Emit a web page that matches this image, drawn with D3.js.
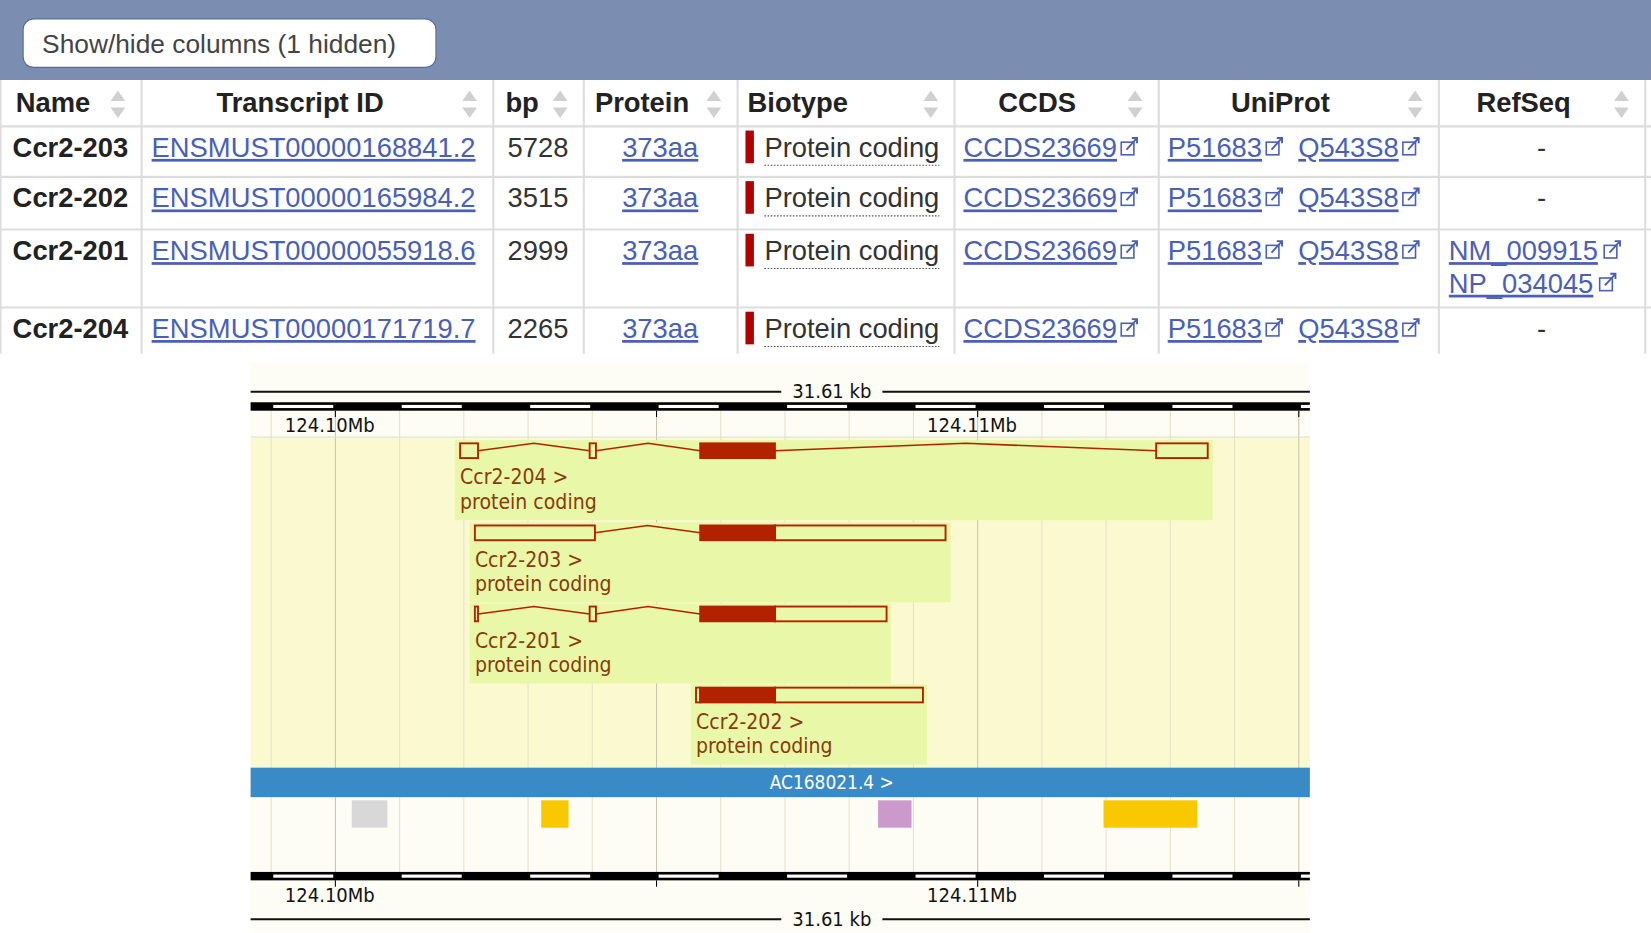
<!DOCTYPE html>
<html><head><meta charset="utf-8">
<script src="https://cdn.jsdelivr.net/npm/d3@7"></script>
<style>body{margin:0;background:#fff}svg{display:block}</style>
</head><body><div id="wrapper"></div>
<script>
// table data
const columns = ["Name", "Transcript ID", "bp", "Protein", "Biotype", "CCDS", "UniProt", "RefSeq"];
const names = ["Ccr2-203", "Ccr2-202", "Ccr2-201", "Ccr2-204"];
const transcriptIds = ["ENSMUST00000168841.2", "ENSMUST00000165984.2", "ENSMUST00000055918.6", "ENSMUST00000171719.7"];
const bps = [5728, 3515, 2999, 2265];
const proteins = ["373aa", "373aa", "373aa", "373aa"];
const biotypes = ["Protein coding", "Protein coding", "Protein coding", "Protein coding"];
const ccds = ["CCDS23669", "CCDS23669", "CCDS23669", "CCDS23669"];
const uniprot = [["P51683", "Q543S8"], ["P51683", "Q543S8"], ["P51683", "Q543S8"], ["P51683", "Q543S8"]];
const refseq = [[], [], ["NM_009915", "NP_034045"], []];

// genome view data
const regionStart = 124098680, regionEnd = 124115172;
const rulerTicks = [124100000, 124110000];
const tracks = ["Ccr2-204", "Ccr2-203", "Ccr2-201", "Ccr2-202"];
// exons: [start, end, coding?]
const exons204 = [[124101942, 124102221, 0], [124103959, 124104057, 0], [124105680, 124106844, 1], [124112779, 124113582, 0]];
const exons203 = [[124102172, 124104041, 0], [124105680, 124106844, 1], [124106844, 124109500, 0]];
const exons201 = [[124102172, 124102221, 0], [124103959, 124104057, 0], [124105680, 124106844, 1], [124106844, 124108582, 0]];
const exons202 = [[124105615, 124105680, 0], [124105680, 124106844, 1], [124106844, 124109148, 0]];
const labelEnds = [124113660, 124109580, 124108650, 124109210];
const regFeatures = [[124100255, 124100810, "#d8d8d8"], [124103205, 124103630, "#f8c800"], [124108450, 124108970, "#cc99cc"], [124111960, 124113420, "#f8c800"]];

const W = 1568, H = 886;
const svg = d3.select("#wrapper").append("svg")
  .attr("width", 1651).attr("height", 933)
  .attr("viewBox", `0 0 ${W} ${H}`).attr("preserveAspectRatio", "none");

const tf = "'Liberation Sans', Arial, sans-serif";
const linkColor = "#4a5fb8";

// header band
svg.append("rect").attr("x", 0).attr("y", 0).attr("width", W).attr("height", 76).attr("fill", "#7b8db0");
svg.append("rect").attr("x", 22).attr("y", 18).attr("width", 392).attr("height", 46).attr("rx", 10)
  .attr("fill", "#fff").attr("stroke", "#5a6a90");
svg.append("text").attr("x", 40).attr("y", 50).attr("font-family", tf).attr("font-size", 25)
  .attr("fill", "#444").text("Show/hide columns (1 hidden)");

const colX = [0, 134, 468, 554, 700, 906, 1100, 1366, 1562];
const rowY = [76, 120, 168, 218, 292, 336];
const table = svg.append("g").attr("font-family", tf);
table.append("rect").attr("x", 0).attr("y", 76).attr("width", W).attr("height", 260).attr("fill", "#fff");
colX.forEach(x => table.append("line").attr("x1", x + 0.5).attr("x2", x + 0.5).attr("y1", 76).attr("y2", 336).attr("stroke", "#ddd").attr("stroke-width", 2));
rowY.slice(1, 5).forEach(y => table.append("line").attr("x1", 0).attr("x2", W).attr("y1", y).attr("y2", y).attr("stroke", "#ddd").attr("stroke-width", 2));

const headAnchor = [[15, "start"], [285, "middle"], [480, "start"], [565, "start"], [710, "start"], [985, "middle"], [1216, "middle"], [1447, "middle"]];
columns.forEach((c, i) => {
  table.append("text").attr("x", headAnchor[i][0]).attr("y", 106).attr("text-anchor", headAnchor[i][1])
    .attr("font-size", 26).attr("font-weight", "bold").attr("fill", "#222").text(c);
  const ax = colX[i + 1] - 22;
  table.append("path").attr("d", `M${ax - 7},${96}L${ax},${86}L${ax + 7},${96}Z M${ax - 7},${102}L${ax},${112}L${ax + 7},${102}Z`).attr("fill", "#d0d0d0");
});

function extIcon(g, x, y) {
  g.append("rect").attr("x", x).attr("y", y - 14).attr("width", 12).attr("height", 12).attr("fill", "none").attr("stroke", linkColor).attr("stroke-width", 1.5);
  g.append("path").attr("d", `M${x + 5},${y - 7}L${x + 15},${y - 18}M${x + 10},${y - 18}H${x + 15}V${y - 13}`).attr("fill", "none").attr("stroke", linkColor).attr("stroke-width", 1.8);
}
function link(g, x, y, t, anchor) {
  const el = g.append("text").attr("x", x).attr("y", y).attr("font-size", 26).attr("fill", linkColor)
    .attr("text-decoration", "underline").attr("text-anchor", anchor || "start").text(t);
  return el.node().getComputedTextLength();
}

names.forEach((n, i) => {
  const y = rowY[i + 1] + 29;
  const g = table.append("g");
  g.append("text").attr("x", 12).attr("y", y).attr("font-size", 26).attr("font-weight", "bold").attr("fill", "#222").text(n);
  link(g, 144, y, transcriptIds[i]);
  g.append("text").attr("x", 482).attr("y", y).attr("font-size", 26).attr("fill", "#333").text(bps[i]);
  link(g, 627, y, proteins[i], "middle");
  g.append("rect").attr("x", 708).attr("y", y - 25).attr("width", 8).attr("height", 31).attr("fill", "#b00000");
  const bt = g.append("text").attr("x", 726).attr("y", y).attr("font-size", 26).attr("fill", "#333").text(biotypes[i]);
  const bw = bt.node().getComputedTextLength();
  g.append("line").attr("x1", 726).attr("x2", 726 + bw).attr("y1", y + 8).attr("y2", y + 8).attr("stroke", "#555").attr("stroke-dasharray", "1.5,1.5");
  let w = link(g, 915, y, ccds[i]);
  extIcon(g, 915 + w + 4, y);
  w = link(g, 1109, y, uniprot[i][0]);
  extIcon(g, 1109 + w + 4, y);
  w = link(g, 1233, y, uniprot[i][1]);
  extIcon(g, 1233 + w + 4, y);
  if (refseq[i].length) {
    refseq[i].forEach((r, k) => {
      const yy = y + k * 31;
      const rw = link(g, 1376, yy, r);
      extIcon(g, 1376 + rw + 6, yy);
    });
  } else {
    g.append("text").attr("x", 1464).attr("y", y).attr("font-size", 26).attr("text-anchor", "middle").attr("fill", "#333").text("-");
  }
});

// ---------- genome view ----------
const gx0 = 238, gx1 = 1244;
const xScale = d3.scaleLinear().domain([regionStart, regionEnd]).range([gx0, gx1]);
const gf = "'DejaVu Sans Condensed', 'DejaVu Sans', sans-serif";
const gv = svg.append("g").attr("font-family", gf);
const kbTicks = d3.range(124099000, regionEnd, 1000);

gv.append("rect").attr("x", gx0).attr("y", 345).attr("width", gx1 - gx0).attr("height", 540).attr("fill", "#fdfcf5");
gv.append("rect").attr("x", gx0).attr("y", 415).attr("width", gx1 - gx0).attr("height", 314).attr("fill", "#fbf9d0");
kbTicks.forEach(t => {
  gv.append("line").attr("x1", xScale(t)).attr("x2", xScale(t)).attr("y1", 390).attr("y2", 828)
    .attr("stroke", t % 5000 === 0 ? "#c8c4b0" : "#e6e2c8").attr("stroke-width", 1);
});
gv.append("line").attr("x1", gx0).attr("x2", gx1).attr("y1", 415).attr("y2", 415).attr("stroke", "#ddd");

function kbLine(y) {
  gv.append("line").attr("x1", gx0).attr("x2", gx1).attr("y1", y).attr("y2", y).attr("stroke", "#111").attr("stroke-width", 2);
  gv.append("rect").attr("x", 742).attr("y", y - 12).attr("width", 96).attr("height", 24).attr("fill", "#fdfcf5");
  gv.append("text").attr("x", 790).attr("y", y + 6).attr("text-anchor", "middle").attr("font-size", 19).attr("fill", "#111").text("31.61 kb");
}
function ruler(y, labelY) {
  gv.append("rect").attr("x", gx0).attr("y", y).attr("width", gx1 - gx0).attr("height", 8).attr("fill", "#000");
  kbTicks.filter(t => (t / 1000) % 2 === 1).forEach(t => {
    gv.append("rect").attr("x", xScale(t) + 2).attr("y", y + 2.5).attr("width", xScale(t + 1000) - xScale(t) - 4).attr("height", 3).attr("fill", "#fff");
  });
  kbTicks.filter(t => t % 5000 === 0).forEach(t => {
    gv.append("line").attr("x1", xScale(t)).attr("x2", xScale(t)).attr("y1", y + 8).attr("y2", y + 14).attr("stroke", "#000");
  });
  rulerTicks.forEach(t => {
    gv.append("text").attr("x", xScale(t) - 48).attr("y", labelY).attr("font-size", 19).attr("fill", "#111")
      .text(d3.format(".2f")(t / 1e6) + "Mb");
  });
}
kbLine(372);
ruler(382, 410);
ruler(828, 857);
kbLine(873);

const trackExons = [exons204, exons203, exons201, exons202];
const trackY = [428, 506, 583, 660];
const red = "#b32200";
tracks.forEach((name, i) => {
  const ex = trackExons[i];
  const cy = trackY[i];
  const s = ex[0][0];
  gv.append("rect").attr("x", xScale(s) - 5).attr("y", cy - 10).attr("width", xScale(labelEnds[i]) - xScale(s) + 5)
    .attr("height", 76).attr("fill", "#e8f8a8");
  for (let k = 0; k < ex.length - 1; k++) {
    const a = ex[k][1], b = ex[k + 1][0];
    if (b - a < 10) continue;
    const m = (a + b) / 2;
    gv.append("path").attr("d", `M${xScale(a)},${cy}L${xScale(m)},${cy - 7}L${xScale(b)},${cy}`)
      .attr("fill", "none").attr("stroke", red).attr("stroke-width", 1.5);
  }
  ex.forEach(e => {
    gv.append("rect").attr("x", xScale(e[0])).attr("y", cy - 7).attr("width", Math.max(1, xScale(e[1]) - xScale(e[0])))
      .attr("height", 14).attr("fill", e[2] ? red : "none").attr("stroke", red).attr("stroke-width", 1.8);
  });
  gv.append("text").attr("x", xScale(s)).attr("y", cy + 32).attr("font-size", 20).attr("fill", "#8b3a0a").text(name + " >");
  gv.append("text").attr("x", xScale(s)).attr("y", cy + 55).attr("font-size", 20).attr("fill", "#8b3a0a").text("protein coding");
});

gv.append("rect").attr("x", gx0).attr("y", 729).attr("width", gx1 - gx0).attr("height", 28).attr("fill", "#3a8ac8");
gv.append("text").attr("x", 790).attr("y", 749).attr("text-anchor", "middle").attr("font-size", 18).attr("fill", "#fff").text("AC168021.4 >");
gv.append("rect").attr("x", gx0).attr("y", 757).attr("width", gx1 - gx0).attr("height", 71).attr("fill", "none");
regFeatures.forEach(f => {
  gv.append("rect").attr("x", xScale(f[0])).attr("y", 760).attr("width", xScale(f[1]) - xScale(f[0])).attr("height", 26).attr("fill", f[2]);
});
</script>
</body></html>
